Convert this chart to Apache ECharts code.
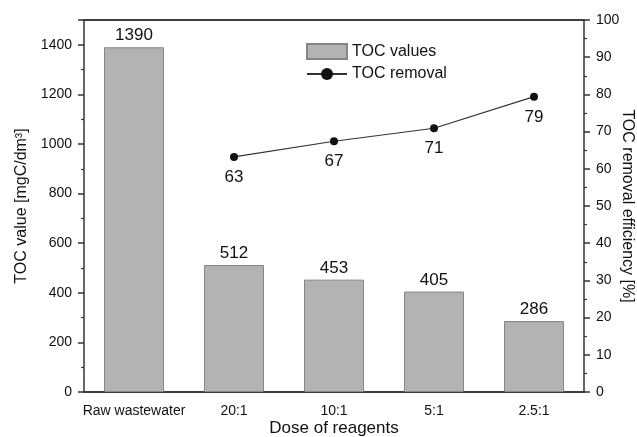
<!DOCTYPE html>
<html><head><meta charset="utf-8">
<script src="https://cdn.jsdelivr.net/npm/echarts@6/dist/echarts.min.js"></script>
<style>html,body{margin:0;padding:0;background:#fff}#c{width:637px;height:437px}</style>
</head><body><div id="c"></div>
<script>
const categories = ['Raw wastewater', '20:1', '10:1', '5:1', '2.5:1'];
const tocValues = [1390, 512, 453, 405, 286];
const tocRemoval = [null, 63.2, 67.4, 70.9, 79.4];
const leftTicks = [0, 200, 400, 600, 800, 1000, 1200, 1400];
const rightTicks = [0, 10, 20, 30, 40, 50, 60, 70, 80, 90, 100];

const FONT = 'Liberation Sans';
const TXT = '#111';
const AX = '#333';
const chart = echarts.init(document.getElementById('c'));
const baseX = {
  type: 'category', data: categories, boundaryGap: true,
  axisLine: { lineStyle: { color: AX, width: 1.5 } },
  splitLine: { show: false }
};
chart.setOption({
  animation: false,
  textStyle: { fontFamily: FONT },
  grid: { left: 84, right: 53, top: 20, bottom: 45, containLabel: false, outerBoundsMode: 'none' },
  legend: {
    orient: 'vertical', left: 301, top: 38, itemWidth: 40, itemHeight: 15, itemGap: 6,
    textStyle: { fontSize: 16, color: TXT, fontFamily: FONT },
    data: [{ name: 'TOC values', icon: 'rect' }, { name: 'TOC removal' }]
  },
  xAxis: [
    Object.assign({}, baseX, {
      position: 'bottom', name: 'Dose of reagents', nameLocation: 'middle', nameGap: 28,
      nameMoveOverlap: false,
      nameTextStyle: { fontSize: 17, color: TXT, fontFamily: FONT },
      axisTick: { alignWithLabel: true, length: 6, lineStyle: { color: AX, width: 1.5 } },
      axisLabel: { fontSize: 14, color: TXT, margin: 12, fontFamily: FONT, interval: 0 }
    }),
    Object.assign({}, baseX, {
      position: 'bottom',
      axisTick: { alignWithLabel: false, length: 3, lineStyle: { color: AX, width: 1.2 } },
      axisLabel: { show: false }
    }),
    Object.assign({}, baseX, {
      position: 'top',
      axisTick: { alignWithLabel: true, inside: true, length: 6, lineStyle: { color: AX, width: 1.5 } },
      axisLabel: { show: false }
    }),
    Object.assign({}, baseX, {
      position: 'top',
      axisTick: { alignWithLabel: false, inside: true, length: 3, lineStyle: { color: AX, width: 1.2 } },
      axisLabel: { show: false }
    })
  ],
  yAxis: [
    {
      type: 'value', min: 0, max: 1500, interval: 200, position: 'left',
      name: 'TOC value [mgC/dm³]', nameLocation: 'middle', nameGap: 54, nameMoveOverlap: false,
      nameTextStyle: { fontSize: 16, color: TXT, fontFamily: FONT },
      axisLine: { show: true, lineStyle: { color: AX, width: 1.5 } },
      axisTick: { show: true, length: 6, lineStyle: { color: AX, width: 1.5 } },
      minorTick: { show: true, splitNumber: 2, length: 3, lineStyle: { color: AX, width: 1.2 } },
      splitLine: { show: false },
      axisLabel: { fontSize: 14, color: TXT, margin: 12, fontFamily: FONT,
        formatter: v => leftTicks.indexOf(v) >= 0 ? String(v) : '' }
    },
    {
      type: 'value', min: 0, max: 100, interval: 10, position: 'right',
      name: 'TOC removal efficiency [%]', nameLocation: 'middle', nameGap: 35, nameRotate: -90,
      nameMoveOverlap: false,
      nameTextStyle: { fontSize: 16, color: TXT, fontFamily: FONT },
      axisLine: { show: true, lineStyle: { color: AX, width: 1.5 } },
      axisTick: { show: true, length: 6, lineStyle: { color: AX, width: 1.5 } },
      minorTick: { show: true, splitNumber: 2, length: 3, lineStyle: { color: AX, width: 1.2 } },
      splitLine: { show: false },
      axisLabel: { fontSize: 14, color: TXT, margin: 12, fontFamily: FONT,
        formatter: v => rightTicks.indexOf(v) >= 0 ? String(v) : '' }
    }
  ],
  series: [
    {
      name: 'TOC values', type: 'bar', xAxisIndex: 0, yAxisIndex: 0, data: tocValues,
      barWidth: '60%',
      itemStyle: { color: '#b3b3b3', borderColor: '#858585', borderWidth: 1 },
      label: { show: true, position: 'top', distance: 3, fontSize: 17, color: TXT, fontFamily: FONT }
    },
    {
      name: 'TOC removal', type: 'line', xAxisIndex: 0, yAxisIndex: 1, data: tocRemoval,
      symbol: 'circle', symbolSize: 8, connectNulls: false,
      lineStyle: { color: '#333', width: 1.2 },
      itemStyle: { color: '#111' },
      label: { show: true, position: 'bottom', distance: 8, fontSize: 17, color: TXT, fontFamily: FONT,
        formatter: p => String(Math.round(p.value)) }
    }
  ]
});
</script></body></html>
